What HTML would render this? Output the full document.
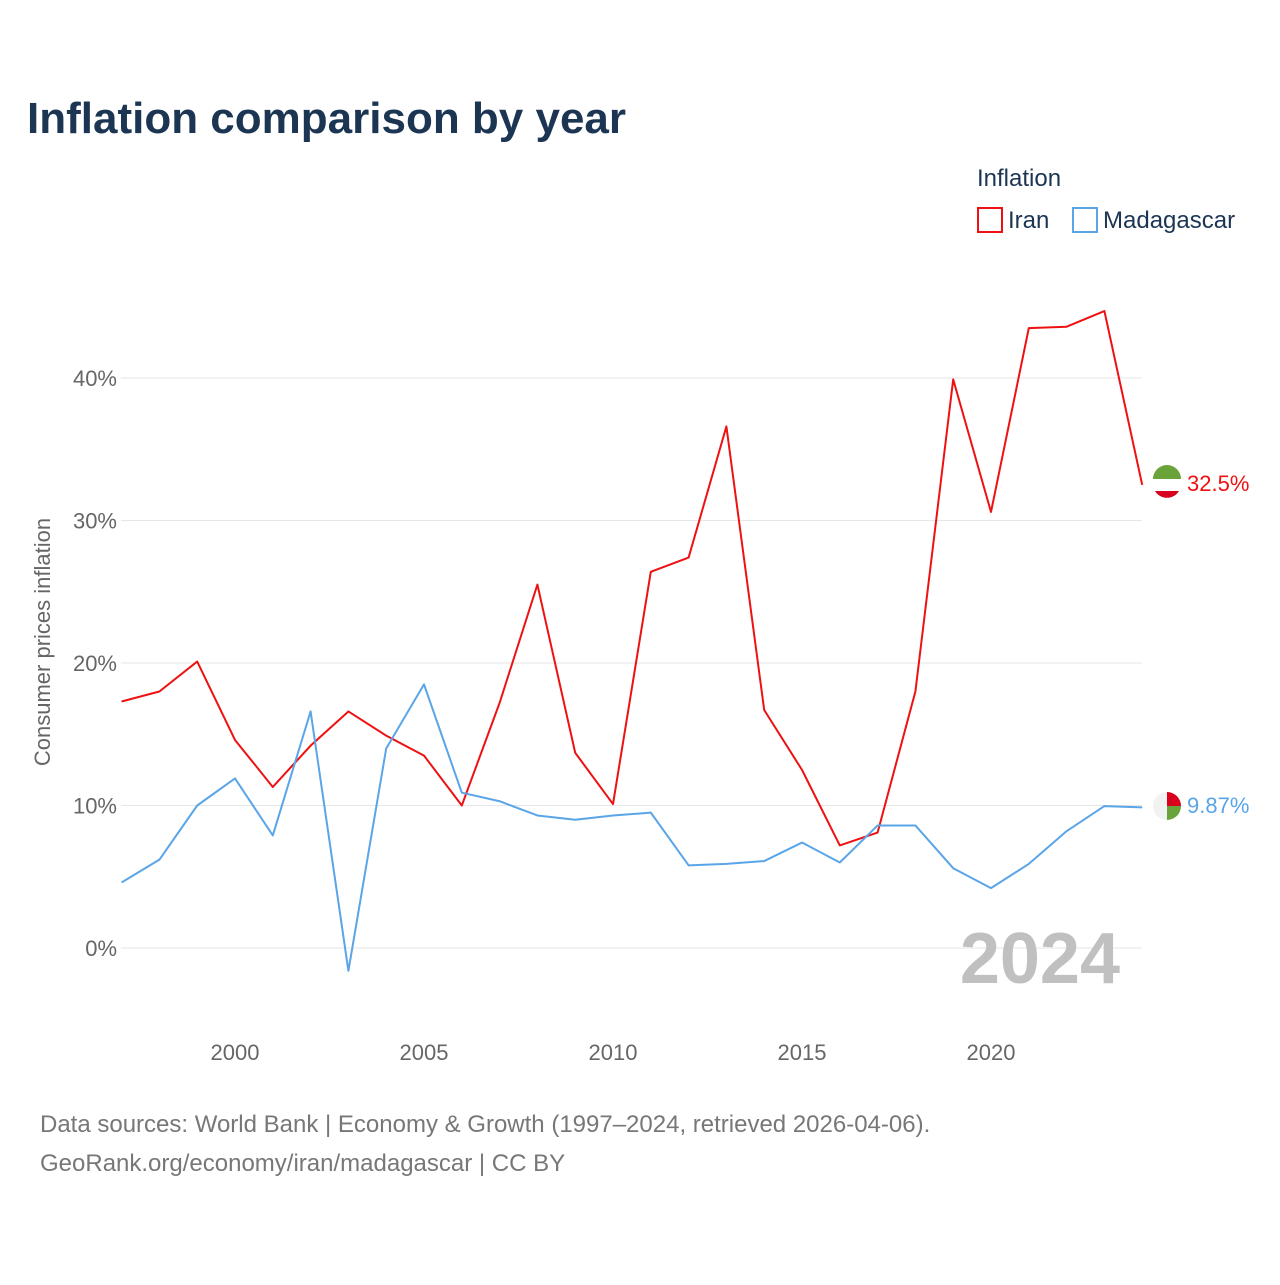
<!DOCTYPE html>
<html><head><meta charset="utf-8"><style>
body{margin:0;background:#fff;font-family:"Liberation Sans",sans-serif}
</style></head><body>
<svg id="chart" width="1280" height="1280" xmlns="http://www.w3.org/2000/svg" style="font-family:'Liberation Sans',sans-serif">
<text x="27" y="133" font-size="44" font-weight="bold" fill="#1b3553">Inflation comparison by year</text>
<text x="977" y="186" font-size="24" fill="#1b3553">Inflation</text>
<g><rect x="978" y="208" width="24" height="24" fill="none" stroke="#ee1111" stroke-width="2"/><text x="1008" y="228" font-size="24" fill="#1b3553">Iran</text></g>
<g><rect x="1073" y="208" width="24" height="24" fill="none" stroke="#5aa5e8" stroke-width="2"/><text x="1103" y="228" font-size="24" fill="#1b3553">Madagascar</text></g>
<text transform="translate(50,642) rotate(-90)" text-anchor="middle" font-size="22" fill="#666">Consumer prices inflation</text>
<g id="grid"></g><g id="xt"></g>
<text x="1120" y="983" text-anchor="end" font-size="72" font-weight="bold" fill="#c0c0c0">2024</text>
<g id="lines"></g>
<g><circle cx="1167" cy="484" r="14" fill="#fff"/><path d="M1153,484 A14,14 0 0 1 1181,484 Z" fill="#6aa33a" transform="translate(0,-5)"/><path d="M1155,491 A14,14 0 0 0 1179,491 Z" fill="#d8001d"/></g>
<text x="1187" y="491" font-size="22" fill="#ee1111">32.5%</text>
<g><circle cx="1167" cy="806" r="14" fill="#f2f2f2"/><path d="M1167,792 A14,14 0 0 1 1181,806 L1167,806 Z" fill="#d8001d"/><path d="M1167,806 L1181,806 A14,14 0 0 1 1167,820 Z" fill="#6aa33a"/></g>
<text x="1187" y="813" font-size="22" fill="#5aa5e8">9.87%</text>
<text x="40" y="1132" font-size="24" fill="#777">Data sources: World Bank | Economy &amp; Growth (1997–2024, retrieved 2026-04-06).</text>
<text x="40" y="1171" font-size="24" fill="#777">GeoRank.org/economy/iran/madagascar | CC BY</text>
</svg>
<script>
const years=[1997,1998,1999,2000,2001,2002,2003,2004,2005,2006,2007,2008,2009,2010,2011,2012,2013,2014,2015,2016,2017,2018,2019,2020,2021,2022,2023,2024];
const iran=[17.3,18.0,20.1,14.6,11.3,14.2,16.6,14.9,13.5,10.0,17.2,25.5,13.7,10.1,26.4,27.4,36.6,16.7,12.5,7.2,8.1,18.0,39.9,30.6,43.5,43.6,44.7,32.5];
const madagascar=[4.6,6.2,10.0,11.9,7.9,16.6,-1.6,14.0,18.5,10.9,10.3,9.3,9.0,9.3,9.5,5.8,5.9,6.1,7.4,6.0,8.6,8.6,5.6,4.2,5.9,8.2,9.96,9.87];
const yTicks=[0,10,20,30,40];
const xTicks=[2000,2005,2010,2015,2020];
const NS="http://www.w3.org/2000/svg";
const x=y=>121.6+(y-1997)*37.8;
const yy=v=>948-v*14.25;
function mk(t,a,p){const e=document.createElementNS(NS,t);for(const k in a)e.setAttribute(k,a[k]);p.appendChild(e);return e;}
const g=document.getElementById('grid');
yTicks.forEach(v=>{
 const l=mk('line',{x1:121,x2:1142,y1:yy(v),y2:yy(v),stroke:'#e6e6e6','stroke-width':1},g);
 
 
 const t=mk('text',{x:117,y:yy(v)+8,'text-anchor':'end','font-size':22,fill:'#666'},g);
 t.textContent=v+'%';
 
 
});
const xt=document.getElementById('xt');
xTicks.forEach(v=>{
 const t=mk('text',{x:x(v),y:1060,'text-anchor':'middle','font-size':22,fill:'#666'},xt);
 t.textContent=v;
 
 
});
const lg=document.getElementById('lines');
[[iran,'#ee1111','iran-line'],[madagascar,'#5aa5e8','madagascar-line']].forEach(([d,c,n])=>{
 const p=mk('polyline',{points:d.map((v,i)=>x(years[i])+','+yy(v)).join(' '),fill:'none',stroke:c,'stroke-width':2,'stroke-linejoin':'round'},lg);
 
 
});
</script>
</body></html>
